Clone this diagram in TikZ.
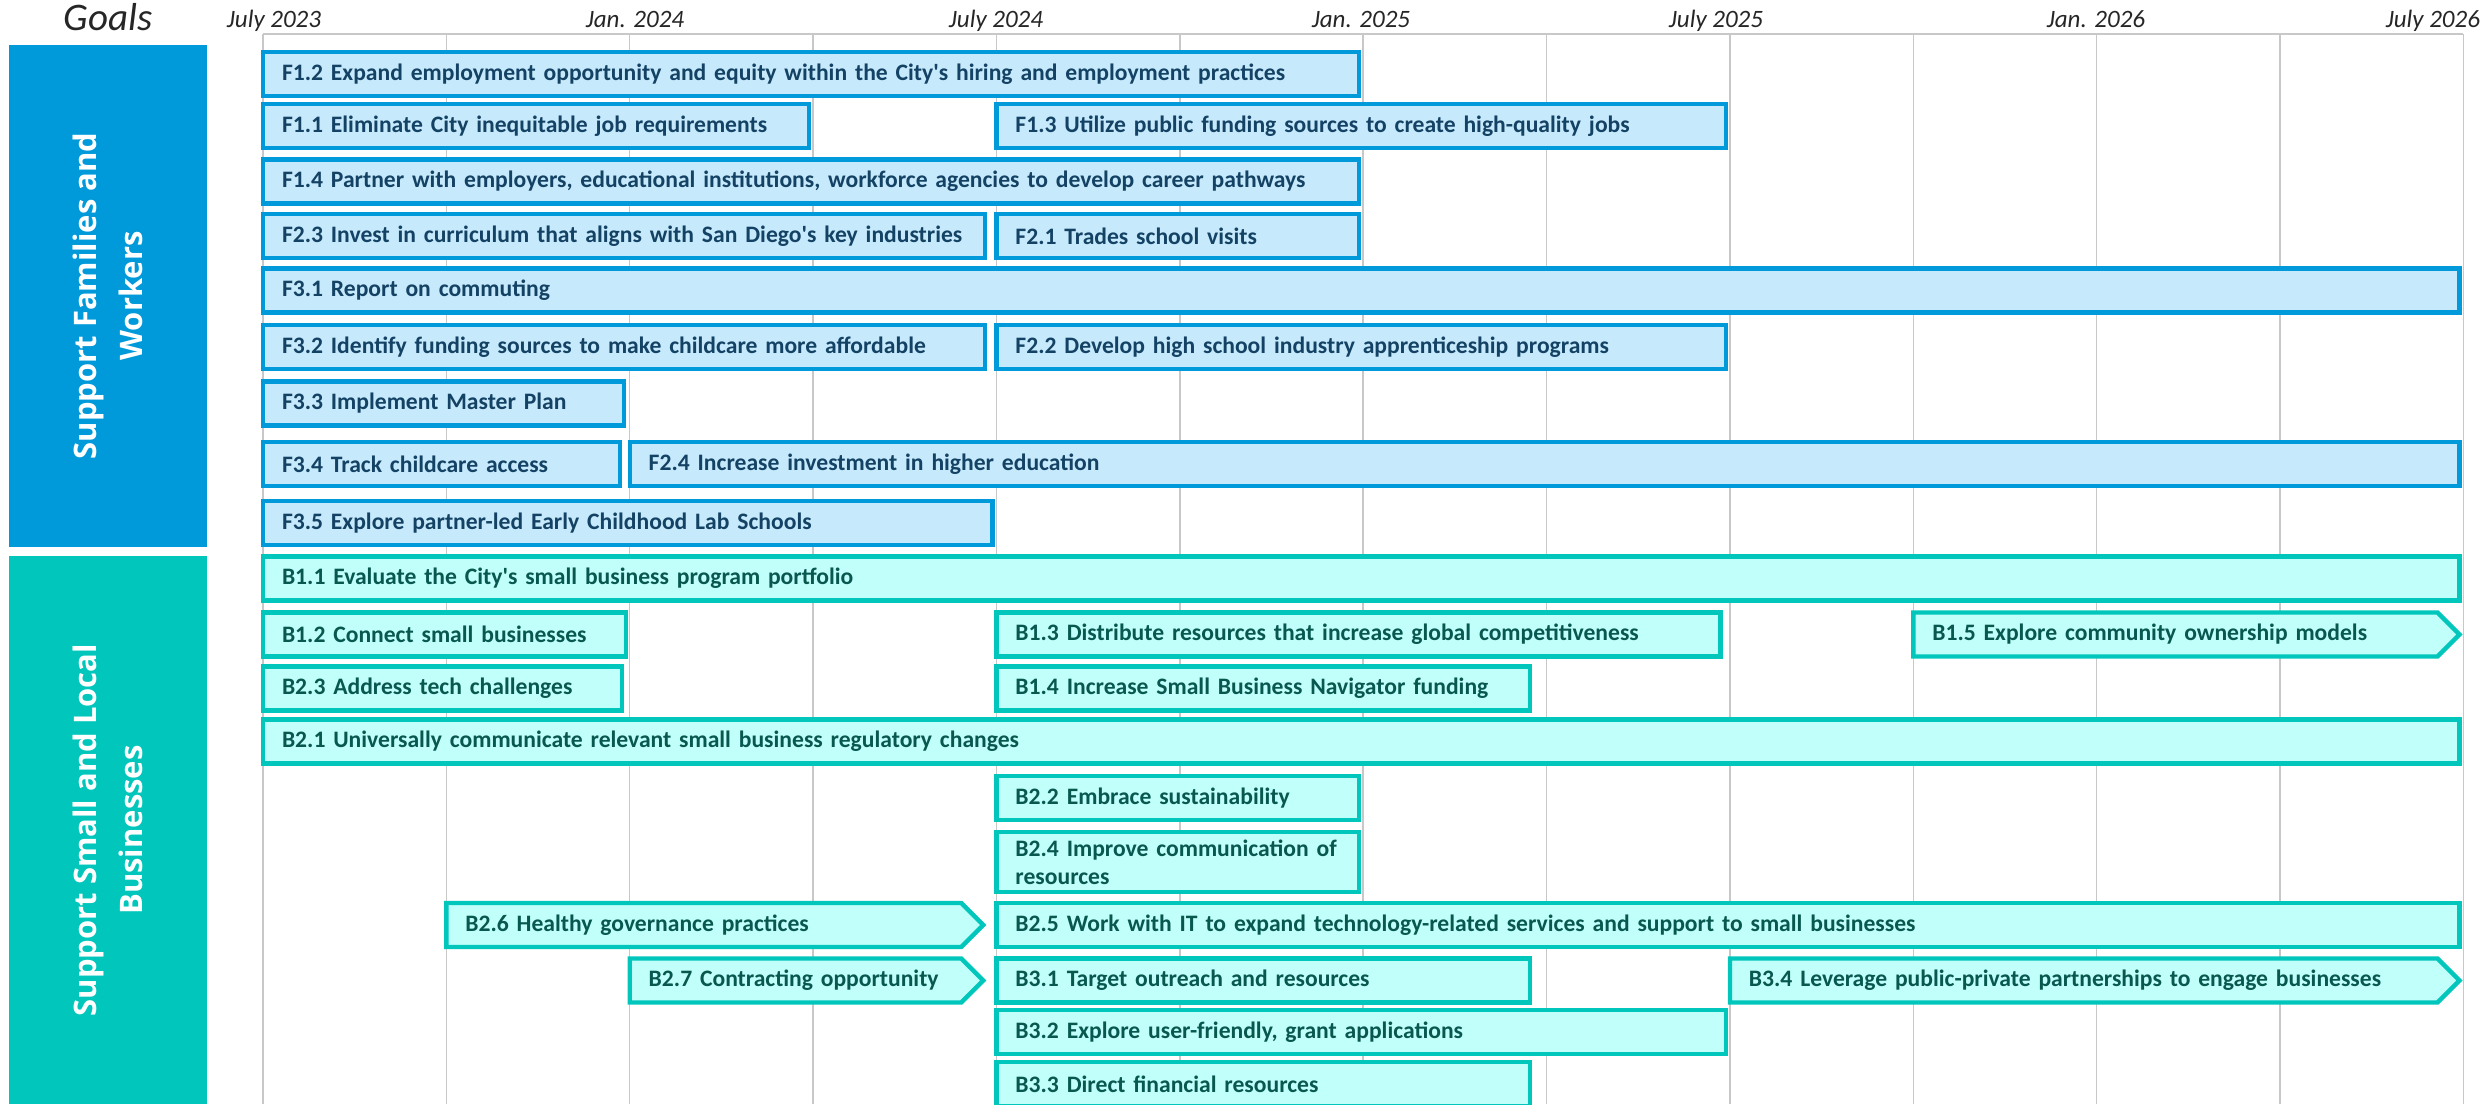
\documentclass[tikz,border=0pt]{standalone}
\usepackage{fontspec}
\setmainfont{Carlito}
\newfontfamily\sidefont{Open Sans}
\usepackage{tikz}
\usetikzlibrary{shapes.symbols}
\definecolor{famblue}{RGB}{0,153,218}
\definecolor{famfill}{RGB}{198,234,252}
\definecolor{famtext}{RGB}{20,66,100}
\definecolor{busteal}{RGB}{0,198,187}
\definecolor{busfill}{RGB}{192,255,250}
\definecolor{bustext}{RGB}{8,88,80}
\definecolor{gridgray}{RGB}{200,200,200}
\newcommand{\qw}{91.685}
\newcommand{\barh}{22pt}
\newcommand{\famitem}[5]{\pgfmathsetmacro{\barw}{(#3-#2)*\qw-21}%
  \node[famtask, text width=\barw pt] (#1) at (#2,#4) {#5};}
\newcommand{\busitem}[5]{\pgfmathsetmacro{\barw}{(#3-#2)*\qw-21}%
  \node[bustask, text width=\barw pt] (#1) at (#2,#4) {#5};}
\newcommand{\busflag}[5]{\pgfmathsetmacro{\barw}{(#3-#2)*\qw-32}%
  \node[busarrow, text width=\barw pt] (#1) at (#2,#4) {#5};}

\begin{document}
\begin{tikzpicture}[x=0.5pt,y=-0.5pt]
    \tikzset{
        gridline/.style={draw=gridgray, line width=0.75pt},
        task/.style={rectangle, anchor=west, line width=2.2pt, outer sep=0pt, inner xsep=9.5pt, inner ysep=0pt,
            minimum height=\barh, align=left, font=\bfseries\fontsize{11.8}{13}\selectfont},
        famtask/.style={task, draw=famblue, fill=famfill, text=famtext},
        bustask/.style={task, draw=busteal, fill=busfill, text=bustext},
        busarrow/.style={bustask, shape=signal, signal to=east, signal from=nowhere, signal pointer angle=90},
        goalbox/.style={rotate=90, text=white, align=center, inner sep=0pt, outer sep=0pt,
            font=\sidefont\bfseries\fontsize{15.5}{23}\selectfont},
        datelabel/.style={anchor=base, text=black!85, font=\itshape\fontsize{12.5}{14}\selectfont}
    }
    \useasboundingbox (0,0) rectangle (2491,1104);
    \clip (0,0) rectangle (2491,1104);

    \node[anchor=base, text=black!85, font=\itshape\fontsize{19.5}{22}\selectfont] (goals) at (108,30) {Goals};
    \node[goalbox, fill=famblue, minimum width=251pt, minimum height=99pt] (families) at (108,296) {Support Families and\\Workers};
    \node[goalbox, fill=busteal, minimum width=274pt, minimum height=99pt] (business) at (108,830) {Support Small and Local\\Businesses};

    \node[datelabel] (d0) at (274,27) {July 2023};
    \node[datelabel] (d2) at (635,27) {Jan. 2024};
    \node[datelabel] (d4) at (996,27) {July 2024};
    \node[datelabel] (d6) at (1361,27) {Jan. 2025};
    \node[datelabel] (d8) at (1716,27) {July 2025};
    \node[datelabel] (d10) at (2096,27) {Jan. 2026};
    \node[datelabel, anchor=base east] (d12) at (2487,27) {July 2026};

    \begin{scope}[xshift=131.5pt, x=\qw pt]
        \draw[gridline] (0,34) -- (12,34);
        \foreach \i in {0,...,12}
            \draw[gridline] (\i,34) -- (\i,1104);

        \famitem{f12}{0}{6}{74}{F1.2 Expand employment opportunity and equity within the City\textquotesingle s hiring and employment practices}
        \famitem{f11}{0}{3}{126}{F1.1 Eliminate City inequitable job requirements}
        \famitem{f13}{4}{8}{126}{F1.3 Utilize public funding sources to create high-quality jobs}
        \famitem{f14}{0}{6}{181.5}{F1.4 Partner with employers, educational institutions, workforce agencies to develop career pathways}
        \famitem{f23}{0}{3.96}{236}{F2.3 Invest in curriculum that aligns with San Diego\textquotesingle s key industries}
        \famitem{f21}{4}{6}{236}{F2.1 Trades school visits}
        \famitem{f31}{0}{12}{290.5}{F3.1 Report on commuting}
        \famitem{f32}{0}{3.96}{347}{F3.2 Identify funding sources to make childcare more affordable}
        \famitem{f22}{4}{8}{347}{F2.2 Develop high school industry apprenticeship programs}
        \famitem{f33}{0}{1.99}{403.5}{F3.3 Implement Master Plan}
        \famitem{f34}{0}{1.97}{464}{F3.4 Track childcare access}
        \famitem{f24}{2}{12}{464}{F2.4 Increase investment in higher education}
        \famitem{f35}{0}{4}{523}{F3.5 Explore partner-led Early Childhood Lab Schools}

        \busitem{b11}{0}{12}{578.5}{B1.1 Evaluate the City\textquotesingle s small business program portfolio}
        \busitem{b12}{0}{2}{634.5}{B1.2 Connect small businesses}
        \busitem{b13}{4}{7.97}{634.5}{B1.3 Distribute resources that increase global competitiveness}
        \busflag{b15}{9}{12}{634.5}{B1.5 Explore community ownership models}
        \busitem{b23}{0}{1.98}{688.5}{B2.3 Address tech challenges}
        \busitem{b14}{4}{6.93}{688.5}{B1.4 Increase Small Business Navigator funding}
        \busitem{b21}{0}{12}{741.5}{B2.1 Universally communicate relevant small business regulatory changes}
        \busitem{b22}{4}{6}{798}{B2.2 Embrace sustainability}
        \node[bustask, minimum height=30pt, text width=162.4pt, font=\bfseries\fontsize{11.8}{14}\selectfont] (b24) at (4,862) {B2.4 Improve communication of\\resources};
        \busflag{b26}{1}{3.95}{925}{B2.6 Healthy governance practices}
        \busitem{b25}{4}{12}{925}{B2.5 Work with IT to expand technology-related services and support to small businesses}
        \busflag{b27}{2}{3.95}{980.5}{B2.7 Contracting opportunity}
        \busitem{b31}{4}{6.93}{980.5}{B3.1 Target outreach and resources}
        \busflag{b34}{8}{12}{980.5}{B3.4 Leverage public-private partnerships to engage businesses}
        \busitem{b32}{4}{8}{1032}{B3.2 Explore user-friendly, grant applications}
        \busitem{b33}{4}{6.93}{1084}{B3.3 Direct financial resources}
    \end{scope}
\end{tikzpicture}
\end{document}
